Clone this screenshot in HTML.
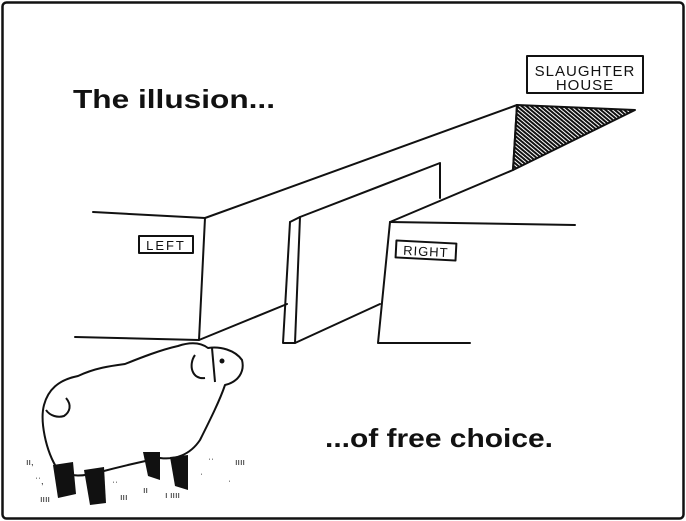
<!DOCTYPE html>
<html><head><style>
html,body{margin:0;padding:0;background:#fff;}
svg{display:block;}
text{font-family:"Liberation Sans",sans-serif;}
</style></head><body>
<svg width="686" height="521" viewBox="0 0 686 521" xmlns="http://www.w3.org/2000/svg">
<defs>
<pattern id="h" width="3" height="3" patternUnits="userSpaceOnUse" patternTransform="rotate(40)">
<rect width="3" height="3" fill="#fff"/><rect width="3" height="2" fill="#111"/>
</pattern>
</defs>
<rect x="2.5" y="2.5" width="681" height="516" rx="4" fill="#fff" stroke="#111" stroke-width="2.5"/>
<text x="73" y="108" font-size="26" font-weight="bold" fill="#111" textLength="202" lengthAdjust="spacingAndGlyphs">The illusion...</text>
<text x="325" y="447" font-size="26" font-weight="bold" fill="#111" textLength="228" lengthAdjust="spacingAndGlyphs">...of free choice.</text>
<g fill="none" stroke="#111" stroke-width="2" stroke-linejoin="round" stroke-linecap="round">
<path d="M517,105 L635,110 L513,170 Z" fill="url(#h)" stroke="#111"/>
<rect x="527" y="56" width="116" height="37" fill="#fff"/>
<path d="M93,212 L205,218 L517,105"/>
<path d="M205,218 L199,340"/>
<path d="M75,337 L199,340 L287,304"/>
<path d="M290,222 L300,217 L440,163 L440,198"/>
<path d="M290,222 L283,343 L295,343 L300,217"/>
<path d="M295,343 L380,304"/>
<path d="M390,222 L513,170 L517,105"/>
<path d="M390,222 L575,225"/>
<path d="M390,222 L378,343 L470,343"/>
<rect x="139" y="236" width="54" height="17"/>
<rect x="396" y="242" width="60" height="17" transform="rotate(3 426 250)"/>
</g>
<text x="585" y="76" font-size="15" text-anchor="middle" fill="#111" letter-spacing="1">SLAUGHTER</text>
<text x="585" y="90" font-size="15" text-anchor="middle" fill="#111" letter-spacing="1">HOUSE</text>
<text x="166" y="250" font-size="13" text-anchor="middle" fill="#111" letter-spacing="2">LEFT</text>
<text x="426" y="256" font-size="13" text-anchor="middle" fill="#111" letter-spacing="1" transform="rotate(3 426 250)">RIGHT</text>
<g stroke="#111" stroke-width="2" fill="#fff" stroke-linejoin="round">
<path d="M58,470 C45,450 40,420 44,405 C48,390 58,380 78,376 C95,368 110,366 125,364 C140,358 160,350 178,346 C190,342 200,342 208,348 C220,346 235,350 242,360 C245,372 238,382 225,385 C220,400 210,420 200,440 C190,455 175,460 160,458 C140,462 115,468 100,472 C85,476 70,478 58,470 Z"/>
<path d="M195,355 C188,365 192,380 205,378" fill="none"/>
<path d="M212,348 L215,382" fill="none"/>
<path d="M66,398 C72,405 70,412 64,416 C58,418 50,416 46,410" fill="none"/>
</g>
<circle cx="222" cy="361" r="2.5" fill="#111"/>
<g fill="#111">
<path d="M53,465 L73,462 L76,494 L58,498 Z"/>
<path d="M84,470 L104,467 L106,503 L90,505 Z"/>
<path d="M143,452 L160,452 L160,480 L148,476 Z"/>
<path d="M170,457 L188,455 L188,490 L175,486 Z"/>
</g>
<g fill="#111" font-size="9">
<text x="26" y="465">ıı,</text><text x="35" y="484">ˈˈ,</text><text x="40" y="502">ıııı</text>
<text x="120" y="500">ııı</text><text x="112" y="488">ˈˈ</text><text x="143" y="493">ıı</text>
<text x="165" y="498">ı ıııı</text><text x="208" y="465">ˈˈ</text><text x="235" y="465">ıııı</text>
<text x="200" y="480">ˈ</text><text x="228" y="487">ˈ</text>
</g>
</svg>
</body></html>
